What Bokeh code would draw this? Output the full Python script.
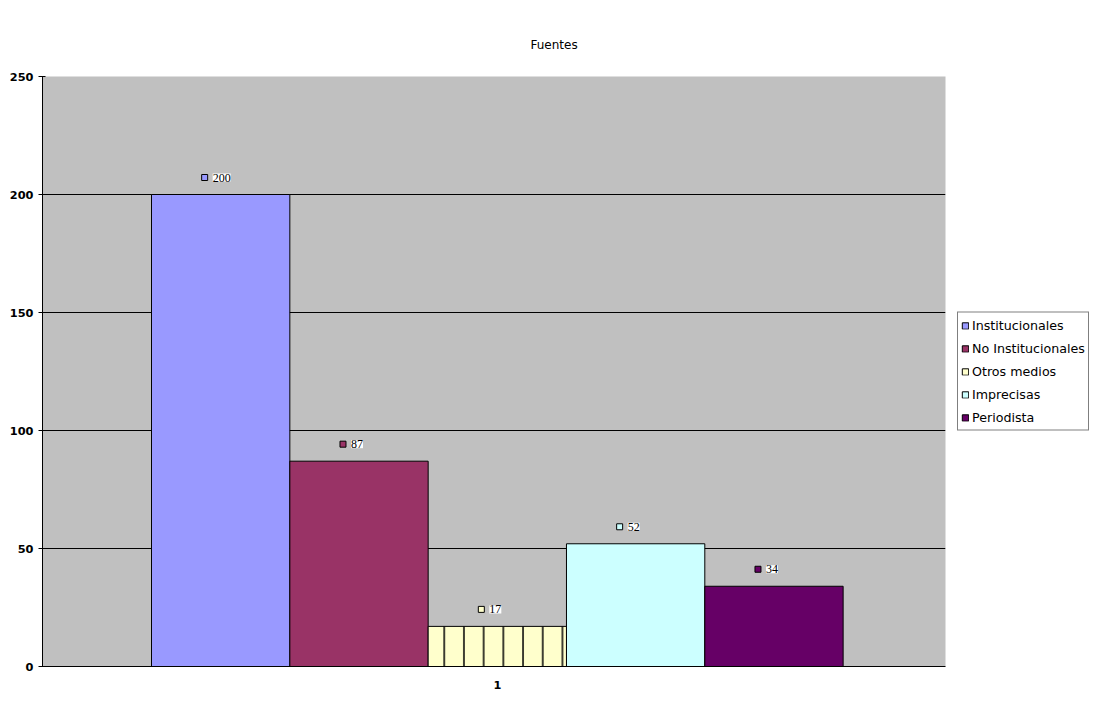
from bokeh.plotting import figure
from bokeh.models import ColumnDataSource, Range1d, Legend, LegendItem, LabelSet, FixedTicker
from bokeh.embed import file_html
from bokeh.resources import INLINE

series = ["Institucionales", "No Institucionales", "Otros medios", "Imprecisas", "Periodista"]
values = [200, 87, 17, 52, 34]
colors = ["#9999FF", "#993366", "#FFFFCC", "#CCFFFF", "#660066"]
hatches = [" ", " ", "|", " ", " "]
category = ["1"]
y_ticks = [0, 50, 100, 150, 200, 250]

xs = list(range(len(series)))
src = ColumnDataSource(dict(x=xs, top=values, color=colors, hatch=hatches, name=series,
                            lab=[str(v) for v in values], sq=["\u2003"] * len(values)))

FONT = "DejaVu Sans"
p = figure(frame_width=903, frame_height=590, output_backend="svg", toolbar_location=None,
           x_range=Range1d(-1.288, 5.24), y_range=Range1d(0, 250),
           min_border_left=42, min_border_right=150, min_border_top=76, min_border_bottom=34)
p.border_fill_color = "white"
p.outline_line_color = None
p.background_fill_color = "#C0C0C0"

r = p.vbar(x="x", top="top", width=1.0, bottom=0, source=src, fill_color="color",
           line_color="black", line_width=1, hatch_pattern="hatch", hatch_color="black",
           hatch_scale=19.7, hatch_weight=1.5)

p.xgrid.visible = False
p.ygrid.grid_line_color = "black"
p.ygrid.grid_line_width = 1
p.yaxis.ticker = FixedTicker(ticks=y_ticks)
p.xaxis.ticker = FixedTicker(ticks=[2])
p.xaxis.major_label_overrides = {2: category[0]}
for ax in (p.xaxis[0], p.yaxis[0]):
    ax.axis_line_color = "black"
    ax.major_tick_line_color = "black"
    ax.minor_tick_line_color = None
    ax.major_label_text_font = FONT
    ax.major_label_text_font_size = "8.5pt"
    ax.major_label_text_font_style = "bold"
    ax.major_label_text_color = "black"
p.yaxis.major_tick_in = 3
p.yaxis.major_tick_out = 4
p.yaxis.major_label_standoff = 5
p.xaxis.major_tick_out = 0
p.xaxis.major_tick_in = 0
p.xaxis.major_label_standoff = 14

# data labels: colored square + value text
squares = LabelSet(x="x", y="top", text="sq", source=src, x_offset=-19, y_offset=17,
                   text_baseline="middle",
                   text_font=FONT, text_font_size="6px", text_color="black",
                   background_fill_color="color", border_line_color="black", border_line_width=1)
p.add_layout(squares)
labels = LabelSet(x="x", y="top", text="lab", source=src, x_offset=-8, y_offset=17,
                  text_baseline="middle",
                  text_font=FONT, text_font_size="9pt", text_color="black",
                  background_fill_color="white")
p.add_layout(labels)

items = [LegendItem(label=s, renderers=[r], index=i) for i, s in enumerate(series)]
legend = Legend(items=items, location="center_left", orientation="vertical")
legend.label_text_font = FONT
legend.label_text_font_size = "9.5pt"
legend.label_text_color = "black"
legend.glyph_width = 8
legend.glyph_height = 8
legend.label_standoff = 3
legend.label_height = 19
legend.spacing = 4
legend.padding = 3
legend.margin = 12
legend.border_line_color = "black"
legend.border_line_width = 1
legend.background_fill_color = "white"
legend.background_fill_alpha = 1
p.add_layout(legend, "right")

p.title.text = "Fuentes"
p.title.align = "left"
p.title.offset = 488
p.title.vertical_align = "top"
p.title.standoff = 46
p.title.text_font = FONT
p.title.text_font_size = "9pt"
p.title.text_font_style = "normal"
p.title.text_color = "black"

open("out.html", "w").write(file_html(p, INLINE))
